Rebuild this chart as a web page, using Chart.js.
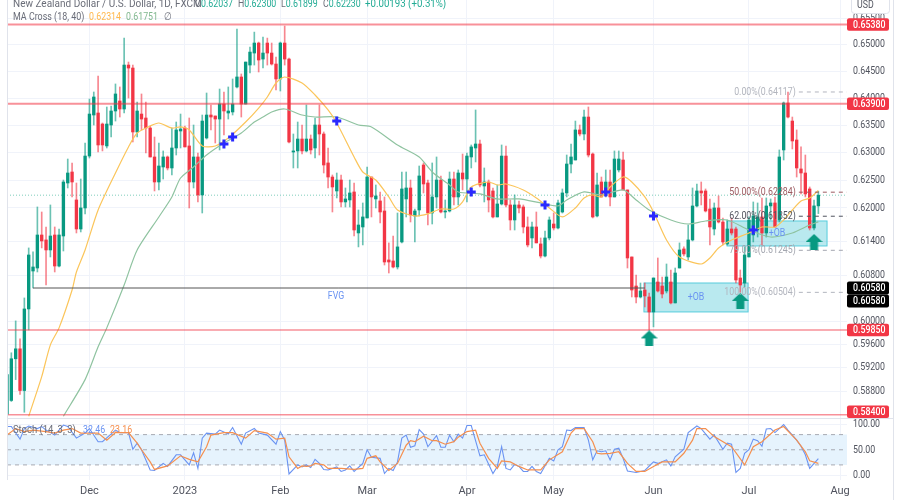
<!DOCTYPE html>
<html>
<head>
<meta charset="utf-8">
<style>
html,body{margin:0;padding:0;background:#fff;}
#wrap{width:900px;height:500px;}
</style>
<script src="https://cdn.jsdelivr.net/npm/chart.js@4/dist/chart.umd.min.js"></script>
</head>
<body>
<div id="wrap"><canvas id="c" width="900" height="500"></canvas></div>
<script>
// daily candles, one entry per bar
const opens = [
.58406,.5864,.59352,.59523,.58809,.60214,.60879,.60932,.61517,.61429,
.61251,.61517,.60967,.61499,.6245,.62649,.62144,.61624,.62,.62939,
.63691,.63728,.63525,.63123,.63507,.63765,.6395,.63802,.64619,.64563,
.63379,.63709,.63636,.63452,.62922,.62468,.6274,.62922,.62722,.63086,
.63397,.63452,.63123,.62468,.62922,.62234,.63269,.63691,.63673,.63617,
.63894,.63728,.63747,.6421,.64396,.63894,.64619,.64844,.65032,.64731,
.65032,.64844,.64638,.64359,.65032,.64731,.63013,.63032,.6325,.63032,
.6325,.63086,.63507,.63342,.62813,.62558,.62306,.62504,.62108,.62144,
.62288,.61553,.6166,.61821,.62558,.62162,.62126,.61946,.61074,.61056,
.6095,.61393,.62162,.6236,.61857,.61964,.62776,.6245,.6191,.62198,
.62504,.61928,.61946,.62522,.62198,.62631,.62522,.62922,.63086,.63159,
.62396,.62468,.62306,.61839,.62072,.62939,.62054,.61785,.62054,.62018,
.6166,.61464,.6166,.61358,.61144,.61464,.61713,.61642,.61928,.6227,
.62794,.62867,.63416,.63342,.63654,.62976,.61857,.62468,.62234,.62468,
.62198,.62686,.62867,.62324,.61127,.60615,.60423,.60545,.60423,.60162,
.60686,.60615,.60528,.60686,.60319,.60932,.61269,.61127,.61429,.62036,
.62306,.62306,.61982,.61624,.62,.61749,.61358,.61624,.61624,.60756,
.60668,.61127,.61517,.61606,.61839,.61553,.62036,.6209,.61785,.6305,
.63913,.6358,.63232,.62704,.62631,.62342,.61642,.62037];
const highs = [
.59286,.59455,.60006,.59694,.60406,.61287,.61216,.62018,.61928,.6166,
.62054,.6166,.61624,.62504,.62885,.62813,.6245,.62522,.63177,.63986,
.64117,.64414,.63544,.63839,.63857,.64266,.6421,.65125,.64675,.64619,
.63931,.6408,.63931,.63489,.63287,.63177,.63032,.6294,.63452,.63562,
.63709,.63489,.63636,.63507,.62995,.63691,.64098,.63876,.63673,.64172,
.64117,.6421,.64359,.65295,.64452,.64675,.64956,.65238,.6505,.65144,
.65125,.65032,.64769,.6505,.65352,.6475,.63342,.63562,.63507,.63876,
.63324,.63636,.63876,.63379,.63086,.62595,.62631,.62595,.6236,.62504,
.6245,.61964,.6209,.6274,.62558,.62414,.62288,.62198,.61376,.61499,
.6191,.62649,.62649,.62504,.61982,.62758,.62813,.62504,.62813,.62922,
.62577,.62144,.62649,.62649,.62686,.62976,.62995,.63141,.63784,.63232,
.62722,.62504,.6236,.62414,.63141,.63123,.62144,.62234,.62126,.62054,
.61839,.61749,.61928,.61464,.61588,.61839,.6191,.62144,.62342,.62958,
.63159,.6358,.63507,.63784,.63839,.62995,.62631,.62558,.62686,.62686,
.63032,.63032,.63013,.62324,.61127,.60809,.60668,.60668,.60493,.60756,
.61109,.60774,.61003,.60897,.60932,.61376,.61305,.61695,.6236,.62432,
.62468,.62342,.62162,.6209,.62216,.61821,.61785,.61821,.6166,.60897,
.61305,.61839,.62108,.6209,.6218,.6218,.62162,.62198,.6305,.63931,
.64117,.63654,.63416,.63105,.62958,.62378,.62144,.623];
const lows = [
.58373,.58623,.58995,.58741,.5844,.5985,.6058,.60862,.61287,.60633,
.61127,.60862,.6095,.61233,.6236,.62198,.61553,.61571,.61893,.62903,
.63507,.63013,.63032,.63086,.63287,.6358,.63654,.63728,.64005,.63196,
.63287,.63416,.62995,.62922,.62306,.62324,.62522,.62686,.62595,.62958,
.63086,.63105,.62,.6236,.62108,.6191,.6325,.63416,.63177,.6305,
.63324,.63617,.63691,.64191,.63654,.63894,.6447,.64619,.64489,.64563,
.64619,.64619,.64154,.64135,.64619,.63177,.62722,.62722,.62976,.63013,
.62976,.62903,.62958,.62631,.6236,.61928,.6218,.62018,.62018,.62018,
.61499,.61305,.6134,.61821,.61839,.62,.61731,.60985,.60844,.60932,
.60914,.61376,.61839,.61749,.61393,.61857,.6227,.61695,.61713,.62,
.6191,.61821,.61928,.62054,.62054,.62324,.62108,.62722,.62831,.62378,
.62108,.61928,.61821,.61839,.62054,.62018,.61606,.61606,.6191,.61553,
.61305,.61287,.61376,.61109,.61127,.61429,.61606,.61624,.6191,.62198,
.62631,.62867,.63306,.63232,.62922,.61821,.61839,.62198,.62198,.62036,
.62198,.62649,.62324,.60932,.60423,.60319,.60406,.60249,.5985,.59902,
.6051,.60406,.60493,.60301,.60319,.60932,.61144,.61074,.61411,.62018,
.62054,.61928,.6134,.61517,.61731,.6134,.6134,.61517,.60668,.60504,
.60598,.61127,.61393,.61481,.6134,.61481,.61785,.6166,.61749,.62867,
.63636,.63068,.62558,.62252,.62198,.61606,.61606,.61899];
const closes = [
.5908,.59352,.59523,.58809,.60214,.61162,.6095,.61517,.61411,.61251,
.61499,.60967,.61517,.62468,.62631,.62468,.61624,.62,.62939,.63709,
.64024,.63141,.63141,.63525,.63765,.6408,.63802,.64619,.64563,.63379,
.63765,.63617,.63452,.62922,.62468,.62758,.62922,.62722,.63086,.63416,
.63434,.63105,.62468,.62922,.62234,.6358,.63691,.63654,.63617,.63894,
.63765,.63765,.63894,.64396,.63894,.64675,.64862,.65032,.64713,.64844,
.64844,.64638,.64359,.65032,.64731,.63196,.63032,.6325,.63032,.6325,
.6305,.63507,.63342,.62776,.62558,.62378,.62504,.62108,.62162,.6227,
.61606,.61695,.61839,.62558,.62198,.62216,.61928,.61038,.61038,.6095,
.61305,.62342,.6236,.61875,.61946,.62577,.62432,.6191,.62198,.62504,
.61928,.61946,.62522,.62198,.62631,.62522,.62939,.63105,.63159,.62414,
.62468,.62144,.61839,.62072,.62939,.62054,.61785,.62054,.62,.6166,
.6134,.6166,.61376,.61144,.61464,.61785,.61642,.6209,.6227,.62794,
.62922,.63416,.63342,.63654,.62958,.61839,.62414,.62198,.62468,.62198,
.62885,.62885,.62324,.61109,.60545,.60423,.60528,.60441,.60162,.60756,
.60528,.60475,.60774,.60319,.60844,.61251,.6118,.61429,.62036,.62306,
.6227,.61946,.6166,.62,.61749,.61393,.61624,.61553,.60721,.60633,
.61162,.61785,.61857,.61839,.61553,.62036,.6209,.6166,.62922,.63913,
.63654,.63214,.62722,.62631,.62252,.61642,.62037,.6223];

// moving averages, vertices
const fastIdx = [5,8,10,12,15,16,18,21,25,28,30,33,35,38,40,42,45,48,51,55,58,60,62,64,68,71,74,76,80,82,85,88,90,94,97,100,103,105,107,111,113,115,119,122,125,128,131,133,135,137,139,142,144,147,149,152,155,160,162,164,167,171,174,177,179,181,183,185,187];
const fastVals = [.58373,.59046,.59591,.59885,.60545,.60862,.61251,.61964,.62631,.63105,.6336,.63489,.63544,.63452,.63471,.63416,.63123,.63123,.63269,.63562,.6382,.64024,.64284,.64396,.64284,.64061,.63784,.63544,.62922,.62649,.62504,.62198,.61964,.61857,.61893,.61982,.61982,.62108,.62378,.62468,.62414,.62432,.62324,.6218,.62,.61839,.62,.6218,.62234,.62198,.62378,.62558,.62468,.62198,.61928,.61429,.61127,.61003,.61109,.61287,.61429,.61553,.6166,.6166,.61785,.61964,.62126,.6218,.62314];
const slowIdx = [13,18,21,23,27,30,35,38,40,43,46,50,54,57,59,61,64,68,71,76,81,84,90,95,98,102,104,109,113,118,123,127,129,133,137,142,145,148,153,157,161,166,171,176,181,185,187];
const slowVals = [.58373,.58995,.59557,.59885,.60633,.61251,.61839,.62198,.6254,.6274,.62958,.63177,.6336,.63562,.63654,.63747,.63802,.63691,.63654,.63654,.63507,.63471,.63141,.62922,.62649,.62414,.62288,.62252,.62162,.62162,.6209,.62036,.62144,.62288,.62234,.62324,.62144,.61964,.61785,.61713,.61767,.61785,.61606,.61481,.61553,.61695,.61751];

// stochastic pane
const kIdx = [0,1,3,4,5,7,8,9,11,13,14,16,18,19,21,22,25,26,28,29,30,31,33,34,36,37,39,40,42,43,44,45,46,48,49,51,52,54,55,57,58,60,62,63,64,65,67,68,69,70,71,72,73,74,76,77,78,79,80,82,83,84,86,87,88,89,90,91,92,93,94,95,96,97,99,100,101,102,103,104,105,106,107,109,110,112,113,114,115,116,117,118,119,120,121,122,123,125,126,127,128,129,130,131,133,134,135,136,137,138,139,140,141,142,143,145,147,149,150,152,153,154,156,157,159,160,162,163,165,166,167,168,169,170,171,172,173,174,175,176,177,179,180,182,183,184,185,187];
const kVals = [96,96,71,92,97,92,96,89,79,99,96,73,83,92,66,66,89,84,84,51,63,50,10,9,23,17,40,40,20,44,13,73,83,81,89,81,94,61,83,92,83,79,61,86,69,2,20,16,20,15,31,23,11,10,16,7,10,18,7,23,50,35,33,3,13,9,26,73,79,55,58,90,81,56,78,55,55,79,66,81,73,98,98,38,40,3,17,56,13,10,21,17,7,7,17,7,3,33,28,50,56,89,88,94,94,69,30,48,46,48,30,51,53,33,8,5,9,26,23,30,18,36,51,84,97,92,71,79,51,63,61,5,13,43,50,71,68,57,91,92,84,100,89,69,57,40,13,32.46];
const dIdx = [0,2,4,6,9,11,13,15,17,21,23,25,28,30,31,33,34,37,40,42,44,46,47,50,52,55,57,60,62,64,65,67,68,69,70,71,73,74,77,80,82,83,85,86,88,90,92,93,94,96,98,99,101,103,104,106,108,109,111,113,114,116,118,120,123,125,128,130,131,133,135,136,137,139,141,143,145,147,149,151,154,156,158,159,161,163,166,167,170,172,174,177,179,182,184,185,187];
const dVals = [79,92,86,89,86,83,89,92,83,83,69,84,84,63,50,26,11,18,38,31,26,56,79,84,84,73,88,83,71,73,36,13,18,17,18,23,20,13,13,11,13,33,38,26,9,23,59,68,66,77,68,68,61,66,75,86,89,63,33,13,28,26,17,10,10,30,46,83,92,92,66,43,42,43,46,23,7,7,17,26,26,43,69,92,92,76,61,56,20,56,66,89,96,69,46,28,23.16];
const stochLevels = [80,50,20];

// horizontal levels and drawings
const redLevels = [.6538,.639,.5985,.584];
const fvgLevel = .6058;
const fvgFrom = 6, fvgTo = 147;
const lastClose = .6223;
const fibVals = [.64117,.62284,.61852,.61245,.60504];
const fibLabels = ['0.00%(0.64117)','50.00%(0.62284)','62.00%(0.61852)','79.00%(0.61245)','100.00%(0.60504)'];
const fibColors = ['#b2b5be','#9c5a60','#50535e','#a3a6af','#b2b5be'];
const crossIdx = [50,52,76,107,124,138,149,172];
const crossVals = [.63159,.63287,.6358,.62288,.62054,.62288,.61857,.61606];
const arrowIdx = [148,169,186];
const arrowVals = [.59703,.60354,.61393];
const obLeft = [146.8,165.95], obRight = [170.8,189];
const obTop = [.60668,.61767], obBottom = [.60162,.61322];

// axes
const priceTicks = [.655,.65,.645,.64,.635,.63,.625,.62,.614,.608,.6,.596,.592,.588];
const stochTicks = [100,50,0];
const monthIdx = [19,41,63,83,106,126,149,171,192];
const monthLabels = ['Dec','2023','Feb','Mar','Apr','May','Jun','Jul','Aug'];
const xMax = 193.6;

const UP = '#089981', DOWN = '#f23645';
const FONT = 'Roboto,sans-serif';
const GRID = '#f0f3fa';
const SQUEEZE = .8; // reference text is horizontally compressed

const isUp = opens.map((o,i) => closes[i] >= o);

function xy(idx, vals){
  return idx.map((x,i) => ({x:x, y:vals[i]}));
}
function hline(v, from, to, color, width, dash, order, axis){
  return {type:'line', data:[{x:from,y:v},{x:to,y:v}], borderColor:color, borderWidth:width,
    borderDash:dash||[], pointRadius:0, order:order, yAxisID:axis||'y'};
}

// arrow marker, used as the point style
function arrowImage(){
  let cv = document.createElement('canvas');
  cv.width = 17; cv.height = 16;
  let g = cv.getContext('2d');
  g.fillStyle = UP;
  g.beginPath();
  g.moveTo(8.5,0); g.lineTo(17,8); g.lineTo(12.5,8); g.lineTo(12.5,16);
  g.lineTo(4.5,16); g.lineTo(4.5,8); g.lineTo(0,8);
  g.closePath(); g.fill();
  return cv;
}

const datasets = [];
datasets.push({type:'bar', data:lows.map((l,i) => ({x:i,y:[l,highs[i]]})), barThickness:1, grouped:false,
  backgroundColor:isUp.map(u => u ? 'rgba(8,153,129,.6)' : 'rgba(242,54,69,.6)'), order:20});
datasets.push({type:'bar', data:opens.map((o,i) => ({x:i,y:[Math.min(o,closes[i]),Math.max(o,closes[i])]})), barThickness:2.7, grouped:false, minBarLength:1,
  backgroundColor:isUp.map(u => u ? UP : DOWN), order:19});
datasets.push({type:'line', data:xy(fastIdx,fastVals), borderColor:'#fbc55a', borderWidth:1.2, pointRadius:0, tension:.25, order:17});
datasets.push({type:'line', data:xy(slowIdx,slowVals), borderColor:'#8fc3a0', borderWidth:1.2, pointRadius:0, tension:.25, order:18});
redLevels.forEach((v,i) => datasets.push(hline(v,0,xMax,'rgba(242,54,69,.55)',i<2?2:1.5,[],16)));
datasets.push(hline(fvgLevel,fvgFrom,fvgTo,'#555',1,[],15));
datasets.push(hline(lastClose,0,xMax,'#7fcdbb',1,[1,2],21));
fibVals.forEach((v,i) => datasets.push(hline(v,182.5,xMax,fibColors[i],1,[4,4],14)));
datasets.push({type:'line', data:xy(crossIdx,crossVals), showLine:false, pointStyle:'cross', pointRadius:4.5,
  pointBorderWidth:3, pointBorderColor:'#2a2aff', order:5});
datasets.push({type:'line', data:xy(arrowIdx,arrowVals), showLine:false, pointStyle:arrowImage(), order:4});
// stoch pane
datasets.push({type:'line', data:[{x:0,y:80},{x:xMax,y:80}], borderWidth:0, pointRadius:0, fill:{value:20}, backgroundColor:'#e6f3fd', order:40, yAxisID:'ys'});
stochLevels.forEach(v => datasets.push(hline(v,0,xMax,'#a8abb3',1,[4,4],35,'ys')));
datasets.push({type:'line', data:xy(kIdx,kVals), borderColor:'#6a93f2', borderWidth:1.1, pointRadius:0, order:3, yAxisID:'ys'});
datasets.push({type:'line', data:xy(dIdx,dVals), borderColor:'#f58f4e', borderWidth:1.2, pointRadius:0, order:2, yAxisID:'ys'});

// squeezed text; returns the right edge
function txt(ctx, s, x, y, color, size, align, weight, squeeze){
  const sq = squeeze || SQUEEZE;
  ctx.save();
  ctx.fillStyle = color;
  ctx.font = (weight?weight+' ':'')+(size||11)+'px '+FONT;
  ctx.textAlign = align||'left';
  ctx.textBaseline = 'middle';
  ctx.translate(x,y);
  ctx.scale(sq,1);
  ctx.fillText(s,0,0);
  let w = ctx.measureText(s).width*sq;
  ctx.restore();
  return x+w;
}
function tag(ctx, y, h, bg, label){
  ctx.fillStyle = bg;
  ctx.beginPath();
  ctx.roundRect(847, y-h/2, 42, h, 2);
  ctx.fill();
  txt(ctx,label,853,y+.5,'#fff',11,'left','500');
}

// pin both panes to the pixel rows of the reference
function pinPane(s, top, bottom){
  s.top = top; s.bottom = bottom; s.height = bottom-top;
  s.configure();
}

const drawings = {
  id:'drawings',
  afterLayout(chart){
    chart.chartArea.top = 0;
    chart.chartArea.bottom = 480;
    chart.chartArea.height = 480;
    pinPane(chart.scales.y, 0, 418);
    pinPane(chart.scales.ys, 418, 480);
    pinPane(chart.scales.x, 480, 500);
    // price axis labels get the same squeeze
    ['y','ys'].forEach(id => {
      const s = chart.scales[id];
      if (s._squeezed) return;
      s._squeezed = true;
      const draw = s.drawLabels;
      s.drawLabels = function(a){
        const c = this.ctx;
        c.save();
        c.translate(853,0); c.scale(SQUEEZE,1); c.translate(-853,0);
        draw.call(this,a);
        c.restore();
      };
    });
  },
  beforeDatasetsDraw(chart){
    const ctx = chart.ctx, xs = chart.scales.x, ys = chart.scales.y;
    obLeft.forEach((l,i) => {
      let x0 = xs.getPixelForValue(l), x1 = xs.getPixelForValue(obRight[i]);
      let y0 = ys.getPixelForValue(obTop[i]), y1 = ys.getPixelForValue(obBottom[i]);
      ctx.fillStyle = 'rgba(72,196,214,.38)';
      ctx.fillRect(x0,y0,x1-x0,y1-y0);
      ctx.strokeStyle = '#56ccdc';
      ctx.lineWidth = 1;
      ctx.strokeRect(x0,y0,x1-x0,y1-y0);
    });
  },
  afterDatasetsDraw(chart){
    const ctx = chart.ctx, xs = chart.scales.x, ys = chart.scales.y;
    ctx.save();
    // pane separator and right border
    ctx.strokeStyle = '#e0e3eb';
    ctx.lineWidth = 1;
    ctx.beginPath();
    ctx.moveTo(7,418.5); ctx.lineTo(893,418.5);
    ctx.moveTo(893.5,0); ctx.lineTo(893.5,500);
    ctx.moveTo(7.5,0); ctx.lineTo(7.5,480);
    ctx.stroke();

    // drawing labels
    txt(ctx,'FVG',336,296,'#6a93f2',11,'center');
    txt(ctx,'+OB',696,297,'#6a93f2',11,'center');
    txt(ctx,'+OB',777,233,'#6a93f2',11,'center');
    fibLabels.forEach((s,i) => {
      txt(ctx,s,xs.getPixelForValue(181.8),ys.getPixelForValue(fibVals[i]),fibColors[i],11,'right');
    });

    // legend lines
    const gray = '#6a6d78', green = '#22ab94';
    txt(ctx,'New Zealand Dollar / U.S. Dollar, 1D, FXCM',13,4,gray,11,'left','',.91);
    const ohlcNames = ['O','H','L','C'], ohlcVals = ['0.62037','0.62300','0.61899','0.62230'], ohlcX = [195,238,281,323];
    ohlcNames.forEach((n,i) => {
      let e = txt(ctx,n,ohlcX[i],4,gray);
      txt(ctx,ohlcVals[i],e,4,green);
    });
    txt(ctx,'+0.00193 (+0.31%)',365,4,green,11,'left','',.88);
    txt(ctx,'MA Cross (18, 40)',13,17,gray,11,'left','',.81);
    txt(ctx,'0.62314',89,17,'#ffb84d');
    txt(ctx,'0.61751',126,17,'#81b88f');
    txt(ctx,'∅',164,17,gray);
    txt(ctx,'Stoch (14, 3, 3)',13,430,gray,11,'left','',.86);
    txt(ctx,'32.46',83,430,'#6a93f2');
    txt(ctx,'23.16',110,430,'#f58f4e');

    // price tags
    redLevels.forEach(v => {
      let y = ys.getPixelForValue(v);
      if (v === .584) y -= 3;
      tag(ctx, y, 12.5, DOWN, v.toFixed(5));
    });
    let yb = ys.getPixelForValue(fvgLevel);
    tag(ctx, yb, 13, '#000', fvgLevel.toFixed(5));
    tag(ctx, yb+13, 13, '#000', fvgLevel.toFixed(5));

    // currency box
    ctx.fillStyle = '#fff';
    ctx.strokeStyle = '#e0e3eb';
    ctx.beginPath();
    ctx.roundRect(851.5,-4,38,17.5,3);
    ctx.fill(); ctx.stroke();
    txt(ctx,'USD',857,5,'#50535e');
    ctx.restore();
  }
};

new Chart(document.getElementById('c'), {
  type:'bar',
  data:{datasets:datasets},
  plugins:[drawings],
  options:{
    responsive:false,
    animation:false,
    layout:{autoPadding:false, padding:{left:7,right:7,top:0,bottom:0}},
    plugins:{legend:{display:false},tooltip:{enabled:false}},
    scales:{
      x:{
        type:'linear', min:0, max:xMax, offset:false,
        grid:{color:GRID, offset:false, drawTicks:false},
        border:{display:false},
        afterBuildTicks(s){ s.ticks = monthIdx.map(v => ({value:v})); },
        afterFit(s){ s.height = 20; },
        ticks:{autoSkip:false, maxRotation:0, padding:5, color:'#50535e', font:{family:FONT,size:11},
          callback(v){ return monthLabels[monthIdx.indexOf(v)]; }}
      },
      y:{
        type:'logarithmic', min:.58343, max:.65847, bounds:'data', position:'right', stack:'main', stackWeight:418,
        grid:{color:GRID, drawTicks:false},
        border:{display:false},
        afterBuildTicks(s){ s.ticks = priceTicks.map(v => ({value:v})); },
        afterFit(s){ s.width = 46; },
        ticks:{autoSkip:false, padding:6, color:'#50535e', font:{family:FONT,size:11},
          callback(v){ return v.toFixed(5); }}
      },
      ys:{
        type:'linear', min:-9.9, max:112.9, bounds:'data', position:'right', stack:'main', stackWeight:62,
        grid:{color:GRID, drawTicks:false},
        border:{display:false},
        afterBuildTicks(s){ s.ticks = stochTicks.map(v => ({value:v})); },
        afterFit(s){ s.width = 46; },
        ticks:{autoSkip:false, padding:6, color:'#50535e', font:{family:FONT,size:11},
          callback(v){ return v.toFixed(2); }}
      }
    }
  }
});
</script>
</body>
</html>
